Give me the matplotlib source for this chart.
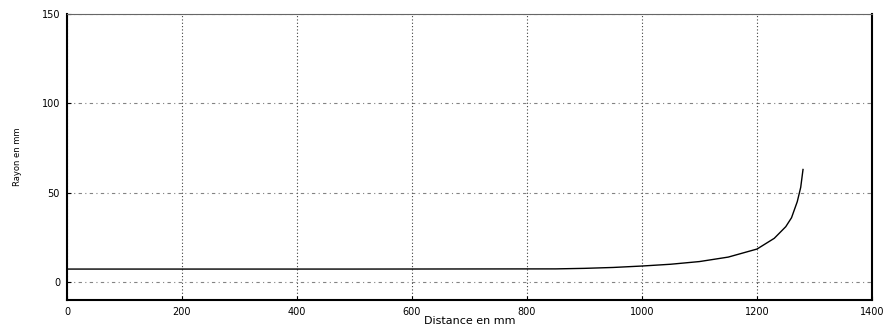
import matplotlib.pyplot as plt

distance = [0, 500, 850, 900, 950, 1000, 1050, 1100, 1150, 1200, 1230, 1250, 1260, 1270, 1276, 1280]
rayon = [7.3, 7.3, 7.4, 7.7, 8.2, 9.0, 10.0, 11.5, 14.0, 18.5, 24.5, 31.0, 36.0, 45.0, 53.0, 63.0]

fig = plt.figure(figsize=(8.93, 3.32), dpi=100)
ax = fig.add_axes([0.075, 0.0964, 0.9015, 0.8616])

ax.plot(distance, rayon, color="black", linewidth=1.0)

ax.set_xlim(0, 1400)
ax.set_ylim(-10, 150)
ax.set_xticks(range(0, 1401, 200))
ax.set_yticks([0, 50, 100, 150])
# MATLAB-like grid: dotted verticals, dash-dot horizontals
ax.xaxis.grid(True, color="black", linestyle=(0, (1, 2)), linewidth=0.8, alpha=0.75)
ax.yaxis.grid(True, color="0.35", linestyle=(0, (3, 3, 1, 3)), linewidth=0.8, alpha=0.75)
ax.tick_params(direction="in", length=3, labelsize=7, colors="black", pad=5)

for side in ["left", "bottom", "right"]:
    ax.spines[side].set_linewidth(1.5)
ax.spines["top"].set_linewidth(0.8)
ax.spines["top"].set_color("0.4")

ax.set_xlabel("Distance en mm", fontsize=8, labelpad=-1)
ax.set_ylabel("Rayon en mm", fontsize=6, labelpad=14)

fig.savefig("out.png", dpi=100)
